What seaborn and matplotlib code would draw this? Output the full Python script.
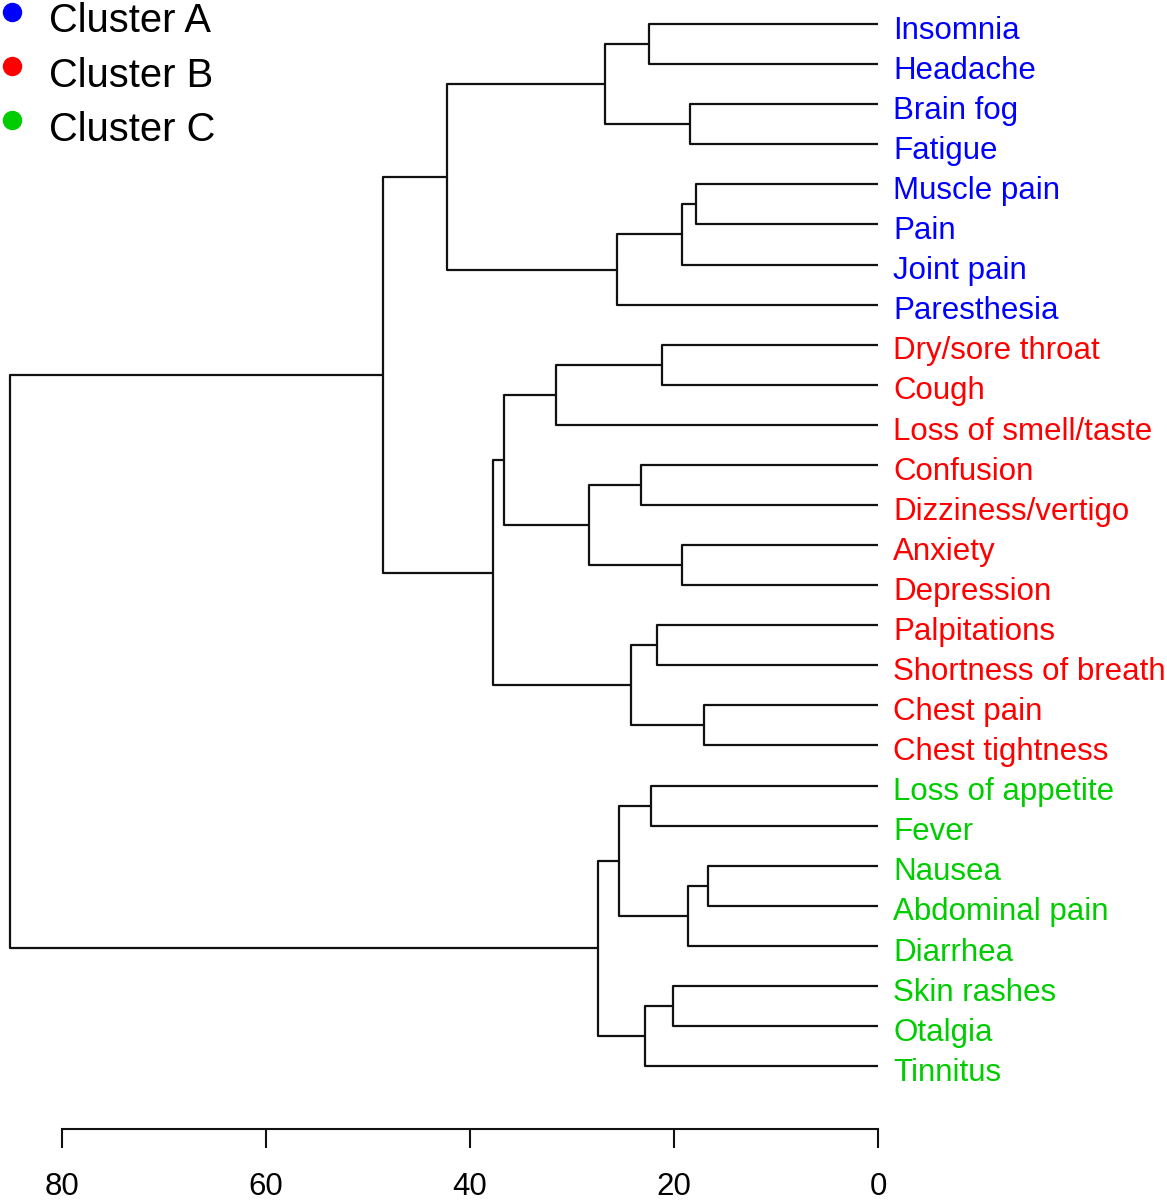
import numpy as np
import pandas as pd
import matplotlib
matplotlib.use('Agg')
import matplotlib.pyplot as plt
from matplotlib.lines import Line2D
from matplotlib.legend_handler import HandlerLine2D
import seaborn as sns

# leaves, top to bottom, as they appear in the dendrogram
symptoms = ['Insomnia', 'Headache', 'Brain fog', 'Fatigue', 'Muscle pain', 'Pain',
            'Joint pain', 'Paresthesia', 'Dry/sore throat', 'Cough', 'Loss of smell/taste',
            'Confusion', 'Dizziness/vertigo', 'Anxiety', 'Depression', 'Palpitations',
            'Shortness of breath', 'Chest pain', 'Chest tightness', 'Loss of appetite',
            'Fever', 'Nausea', 'Abdominal pain', 'Diarrhea', 'Skin rashes', 'Otalgia',
            'Tinnitus']
leaf_cluster = ['A', 'A', 'A', 'A', 'A', 'A', 'A', 'A',
                'B', 'B', 'B', 'B', 'B', 'B', 'B', 'B', 'B', 'B', 'B',
                'C', 'C', 'C', 'C', 'C', 'C', 'C', 'C']

# merge table (scipy style: ids < 27 are leaves, 27 + k is merge k)
merge_left = [21, 17, 4, 2, 27, 29, 13, 24, 8, 15, 19, 0, 34,
              11, 36, 37, 32, 38, 42, 40, 35, 47, 48, 44, 50, 51]
merge_right = [22, 18, 5, 3, 23, 6, 14, 25, 9, 16, 20, 1, 26,
               12, 28, 31, 7, 30, 39, 33, 10, 46, 41, 43, 49, 45]
merge_height = [16.67, 17.03, 17.84, 18.43, 18.66, 19.22, 19.22, 20.07, 21.21,
                21.64, 22.23, 22.42, 22.81, 23.21, 24.19, 25.39, 25.59, 26.76,
                27.42, 28.36, 31.54, 36.70, 37.72, 42.23, 48.56, 85.10]

cluster_names = ['Cluster A', 'Cluster B', 'Cluster C']
cluster_colors = {'A': '#0000FF', 'B': '#FF0000', 'C': '#00CD00'}

n = len(symptoms)
pos = list(range(n))
hgt = [0.0] * n
rows = []
for k, (l, r, h) in enumerate(zip(merge_left, merge_right, merge_height)):
    pl, pr = pos[l], pos[r]
    for x, y in [(hgt[l], pl), (h, pl), (h, pr), (hgt[r], pr)]:
        rows.append({'link': k, 'height': x, 'pos': y})
    pos.append((pl + pr) / 2)
    hgt.append(h)
seg = pd.DataFrame(rows)

sns.set_theme(style='white')
plt.rcParams['font.family'] = ['Liberation Sans', 'DejaVu Sans']

fig = plt.figure(figsize=(11.67, 12), dpi=100)
ax = fig.add_axes([0.004284, 0.05917, 0.7481, 0.9375])

sns.lineplot(data=seg, x='height', y='pos', units='link', estimator=None,
             sort=False, color='#111111', linewidth=1.6, ax=ax, legend=False)

ax.set_xlim(85.59, 0)
ax.set_ylim(27.57, -0.5)
ax.set_xlabel('')
ax.set_ylabel('')
ax.set_yticks([])
ax.set_xticks([0, 20, 40, 60, 80])
ax.tick_params(axis='x', direction='out', length=13.7, width=1.5, pad=17,
               labelsize=22.5, color='#111111', labelcolor='black', bottom=True)
for side in ['top', 'right', 'left']:
    ax.spines[side].set_visible(False)
ax.spines['bottom'].set_bounds(0, 80)
ax.spines['bottom'].set_linewidth(1.5)
ax.spines['bottom'].set_color('#111111')

for i, (name, cl) in enumerate(zip(symptoms, leaf_cluster)):
    ax.annotate(name, xy=(0, i), xytext=(10.8, -10.6), textcoords='offset points',
                ha='left', va='baseline', fontsize=22.5, color=cluster_colors[cl],
                annotation_clip=False)


def lift_marker(legend_handle, orig_handle):
    # dots sit a little above the text centre, as in R's legend()
    legend_handle.update_from(orig_handle)
    legend_handle.set_ydata(np.asarray(legend_handle.get_ydata()) + 5)


handles = [Line2D([], [], linestyle='none', marker='o', markersize=14,
                  markerfacecolor=cluster_colors[c], markeredgewidth=0)
           for c in ['A', 'B', 'C']]
leg = fig.legend(handles, cluster_names, loc='upper left', bbox_to_anchor=(0, 0.998),
                 frameon=False, fontsize=28.7, borderaxespad=0, borderpad=0,
                 handlelength=0.587, handletextpad=0.65, labelspacing=0.41,
                 handler_map={Line2D: HandlerLine2D(update_func=lift_marker)})
for t in leg.get_texts():
    t.set_color('black')

fig.savefig('out.png', dpi=100)
